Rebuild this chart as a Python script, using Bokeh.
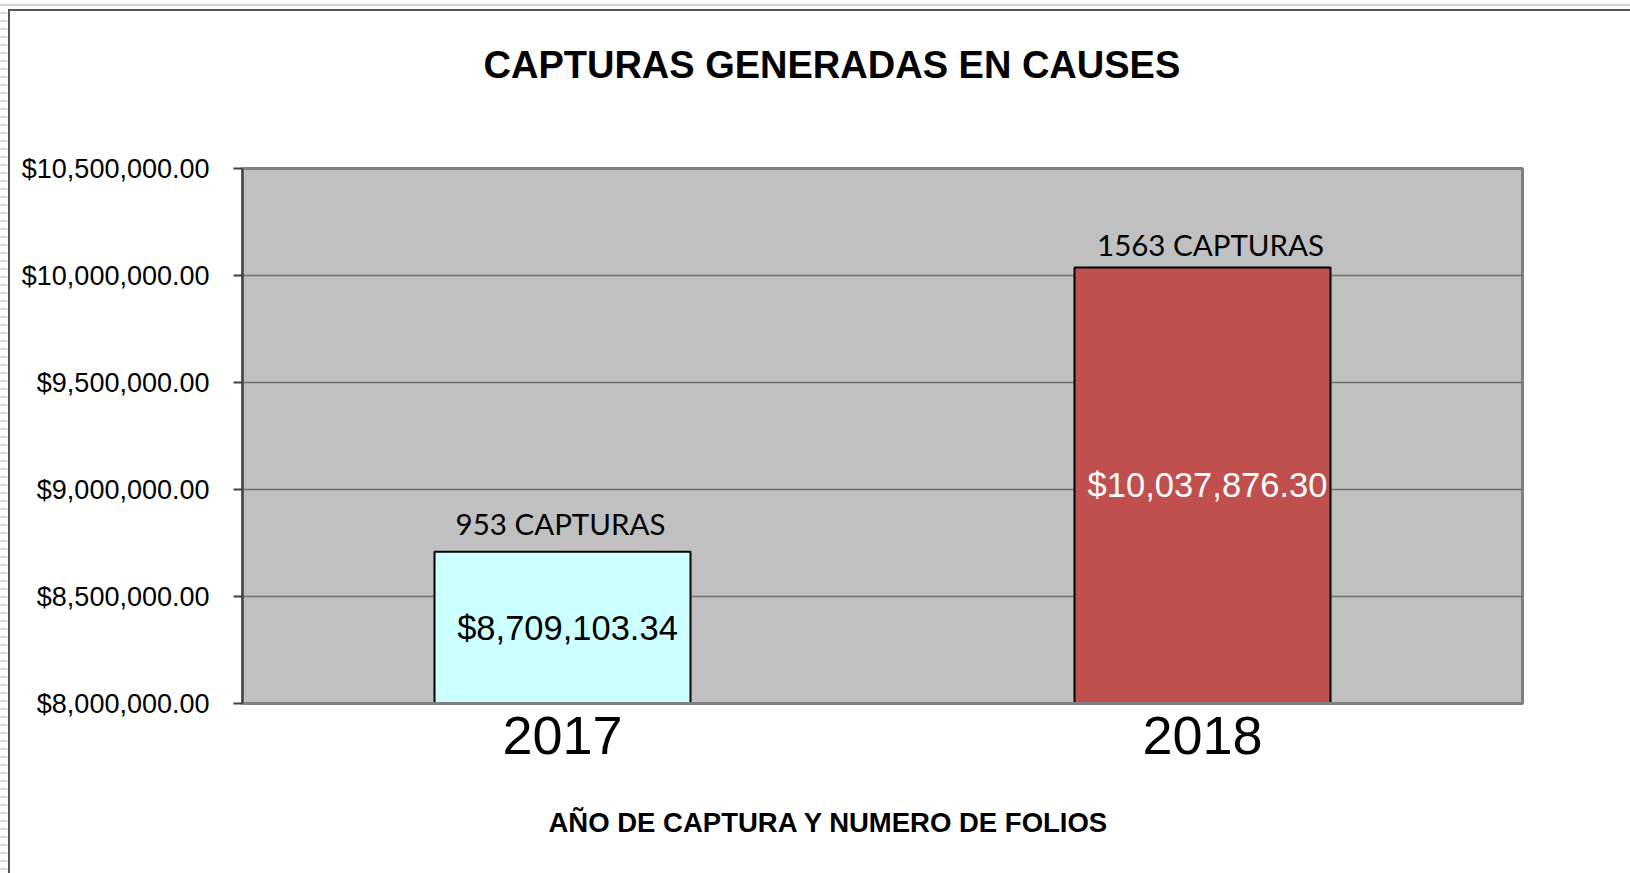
from bokeh.plotting import figure
from bokeh.models import (ColumnDataSource, Range1d, FactorRange, FixedTicker, NumeralTickFormatter,
                          Title, CDSView, IndexFilter, InlineStyleSheet, CategoricalAxis)
from bokeh.core.properties import value
from bokeh.embed import file_html
from bokeh.resources import INLINE

years = ["2017", "2018"]
amounts = [8709103.34, 10037876.30]
capturas = [953, 1563]
bar_colors = ["#CCFFFF", "#C0504D"]
value_text_colors = ["#000000", "#FFFFFF"]
count_labels = [f"{c} CAPTURAS" for c in capturas]
amount_labels = ["${:,.2f}".format(a) for a in amounts]
y_base = 8000000
y_top = 10500000
y_ticks = [8000000, 8500000, 9000000, 9500000, 10000000, 10500000]

src = ColumnDataSource(dict(
    year=years, amount=amounts, color=bar_colors, tcolor=value_text_colors,
    count_label=count_labels, amount_label=amount_labels,
    mid=[(y_base + a) / 2 for a in amounts], base=[y_base] * len(years),
))

p = figure(x_range=FactorRange(*years, range_padding=0), y_range=Range1d(y_base, y_top),
           width=1630, height=873, output_backend="svg", toolbar_location=None,
           min_border_left=242, min_border_right=108, min_border_top=168, min_border_bottom=170)
xax = p.xaxis[0]  # the real category axis, taken before the spacers are added

p.background_fill_color = "#C0C0C0"
p.border_fill_color = "#FFFFFF"
p.outline_line_color = "#808080"
p.outline_line_width = 3


def spacer(size, standoff=0, font_size="0px"):
    # an empty axis: no line, no ticks, no labels; it only takes up room
    return CategoricalAxis(axis_line_color=None, major_tick_line_color=None, minor_tick_line_color=None,
                           major_tick_in=0, major_tick_out=size, minor_tick_out=0,
                           major_label_standoff=standoff, axis_label_standoff=0,
                           major_label_text_font_size=font_size, major_label_text_alpha=0,
                           major_label_overrides={y: "" for y in years})


p.add_layout(spacer(83, standoff=7, font_size="54px"), "above")
p.add_layout(Title(text="CAPTURAS GENERADAS EN CAUSES", align="left", offset=241,
                   text_font="Liberation Sans", text_font_style="bold", text_font_size="38px",
                   text_color="#000000", standoff=0), "above")

p.add_layout(spacer(48), "below")
p.add_layout(Title(text="AÑO DE CAPTURA Y NUMERO DE FOLIOS", align="left", offset=306,
                   text_font="Liberation Sans", text_font_style="bold", text_font_size="27.5px",
                   text_color="#000000", standoff=0), "below")

p.vbar(x="year", top="amount", bottom="base", width=0.4, source=src,
       fill_color="color", line_color="#000000", line_width=2)

count_offsets = [(-2, -28), (8, -23)]
for i, (xo, yo) in enumerate(count_offsets):
    p.text(x="year", y="amount", text="count_label", source=src, view=CDSView(filter=IndexFilter([i])),
           text_align="center", text_baseline="alphabetic", x_offset=xo, y_offset=yo,
           text_font=value("Lato"), text_font_size="29.5px", text_color="#000000")
p.text(x="year", y="mid", text="amount_label", source=src, text_align="center",
       text_baseline="middle", x_offset=5, text_font=value("Liberation Sans"),
       text_font_size="34.5px", text_color="tcolor")

p.yaxis.ticker = FixedTicker(ticks=y_ticks)
p.yaxis.formatter = NumeralTickFormatter(format="$0,0.00")
p.yaxis.major_label_text_font = "Liberation Sans"
p.yaxis.major_label_text_font_size = "27px"
p.yaxis.major_label_text_color = "#000000"
p.yaxis.major_tick_out = 9
p.yaxis.major_tick_in = 0
p.yaxis.minor_tick_line_color = None
p.yaxis.major_tick_line_color = "#404040"
p.yaxis.major_tick_line_width = 2
p.yaxis.axis_line_color = "#404040"
p.yaxis.axis_line_width = 2
p.yaxis.major_label_standoff = 24

xax.major_label_text_font = "Liberation Sans"
xax.major_label_text_font_size = "54px"
xax.major_label_text_color = "#000000"
xax.major_label_standoff = 7
xax.major_tick_line_color = None
xax.minor_tick_line_color = None
xax.axis_line_color = "#808080"
xax.axis_line_width = 3

p.xgrid.grid_line_color = None
p.ygrid.grid_line_color = "#6E6E6E"
p.ygrid.grid_line_width = 1.5

# outer chart-area frame and the spreadsheet edge around it
p.stylesheets = [InlineStyleSheet(css="""
:host { position: relative; }
:host::after { content: ""; position: absolute; left: 0; top: 0; right: 0; bottom: 0;
  pointer-events: none;
  background:
    linear-gradient(#555555, #555555) 8px 9px / 2px 100% no-repeat,
    linear-gradient(#555555, #555555) 8px 9px / 100% 2px no-repeat,
    linear-gradient(#d4d4d4, #d4d4d4) 0 4px / 100% 2px no-repeat,
    repeating-linear-gradient(to bottom, transparent 0 4px, #d4d4d4 4px 6px, transparent 6px 8px) 0 0 / 7px 100% no-repeat;
}
""")]

open("out.html", "w").write(file_html(p, INLINE))
